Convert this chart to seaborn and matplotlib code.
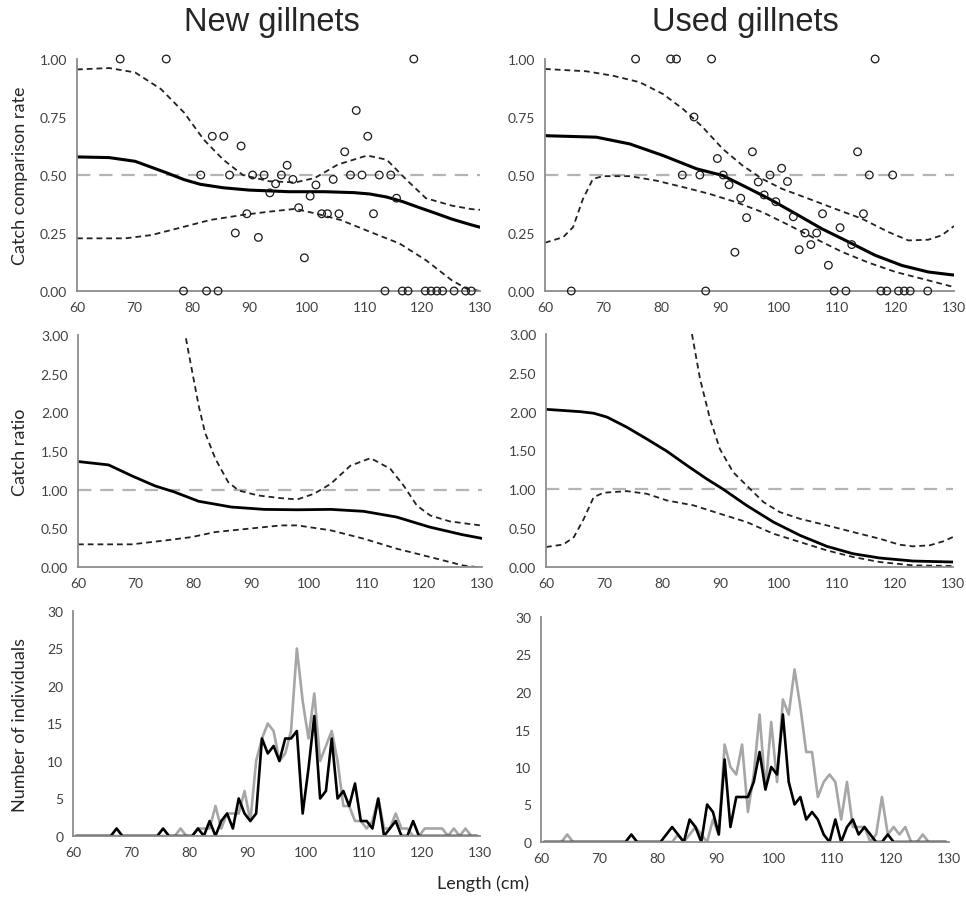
import numpy as np
import pandas as pd
import matplotlib
matplotlib.use('Agg')
import matplotlib.pyplot as plt
import seaborn as sns

sns.set_style('white')
plt.rcParams['font.family'] = ['Lato', 'DejaVu Sans']

# ---------------- data ----------------
# Catch comparison rate, new gillnets (observed points)
new_rate_x = [67.5, 75.5, 118.5, 108.5, 83.5, 85.5, 110.5, 88.5, 106.5, 96.5,
              81.5, 86.5, 90.5, 92.5, 95.5, 107.5, 109.5, 112.5, 114.5,
              97.5, 104.5, 94.5, 101.5, 93.5, 100.5, 115.5, 98.5,
              89.5, 102.5, 103.5, 105.5, 111.5, 87.5, 91.5, 99.5,
              78.5, 82.5, 84.5, 113.5, 116.5, 117.5, 120.5, 121.5, 122.5, 123.5, 125.5, 127.5, 128.5]
new_rate_y = [1.0, 1.0, 1.0, 0.778, 0.667, 0.667, 0.667, 0.625, 0.6, 0.542,
              0.5, 0.5, 0.5, 0.5, 0.5, 0.5, 0.5, 0.5, 0.5,
              0.481, 0.481, 0.462, 0.457, 0.423, 0.409, 0.4, 0.359,
              0.333, 0.333, 0.333, 0.333, 0.333, 0.25, 0.231, 0.143,
              0, 0, 0, 0, 0, 0, 0, 0, 0, 0, 0, 0, 0]
# fitted curve and confidence band, new gillnets
new_fit_x = [60, 65.6, 70.1, 75.5, 78.6, 81.4, 85.4, 89.9, 96.8, 103, 108.1, 110.9, 113.8, 116.6, 119.4, 122.3, 125.1, 128.5, 130]
new_fit_y = [0.578, 0.575, 0.559, 0.51, 0.48, 0.46, 0.445, 0.435, 0.428, 0.428, 0.424, 0.418, 0.405, 0.385, 0.36, 0.335, 0.31, 0.285, 0.275]
new_up_x = [60, 65.6, 70.1, 74.6, 78.6, 82, 85.4, 88.8, 93.4, 97.9, 101.3, 105.3, 110.4, 113.8, 117.2, 120.6, 125.1, 128.5, 130]
new_up_y = [0.955, 0.961, 0.942, 0.87, 0.769, 0.653, 0.566, 0.50, 0.473, 0.468, 0.487, 0.545, 0.584, 0.566, 0.48, 0.40, 0.368, 0.353, 0.35]
new_lo_x = [60, 68.4, 72.9, 78.6, 83.1, 88.8, 93.4, 97.9, 101.3, 105.8, 111.5, 116, 120.6, 125.1, 127.7, 130]
new_lo_y = [0.227, 0.227, 0.241, 0.277, 0.306, 0.328, 0.342, 0.354, 0.335, 0.306, 0.249, 0.205, 0.133, 0.046, 0.01, 0.0]

# Catch comparison rate, used gillnets
used_rate_x = [75.5, 81.5, 82.5, 88.5, 116.5, 85.5, 95.5, 113.5, 89.5, 100.5,
               83.5, 86.5, 90.5, 98.5, 115.5, 119.5, 96.5, 101.5, 91.5, 97.5,
               93.5, 99.5, 107.5, 114.5, 94.5, 102.5, 110.5, 104.5, 106.5,
               105.5, 112.5, 103.5, 92.5, 108.5,
               64.5, 87.5, 109.5, 111.5, 117.5, 118.5, 120.5, 121.5, 122.5, 125.5]
used_rate_y = [1.0, 1.0, 1.0, 1.0, 1.0, 0.75, 0.6, 0.6, 0.571, 0.529,
               0.5, 0.5, 0.5, 0.5, 0.5, 0.5, 0.47, 0.472, 0.458, 0.414,
               0.4, 0.385, 0.333, 0.333, 0.316, 0.32, 0.273, 0.25, 0.25,
               0.2, 0.2, 0.178, 0.167, 0.111,
               0, 0, 0, 0, 0, 0, 0, 0, 0, 0]
used_fit_x = [60, 60.6, 68.8, 74.5, 80.2, 85.9, 90.4, 94.4, 98.4, 102.9, 107.4, 112, 116.5, 121.1, 125.6, 129.5, 130]
used_fit_y = [0.67, 0.669, 0.663, 0.634, 0.584, 0.527, 0.498, 0.448, 0.397, 0.333, 0.268, 0.211, 0.154, 0.11, 0.082, 0.07, 0.069]
used_up_x = [60, 67.1, 71.6, 76.2, 80.2, 83.6, 87, 90.4, 93.8, 97.2, 100.6, 105.2, 109.7, 114.3, 118.8, 122.2, 125.6, 127.9, 130]
used_up_y = [0.957, 0.947, 0.928, 0.90, 0.849, 0.785, 0.706, 0.613, 0.541, 0.483, 0.44, 0.397, 0.354, 0.311, 0.254, 0.218, 0.221, 0.24, 0.28]
used_lo_x = [60, 63.1, 64.8, 66.5, 68.2, 69.9, 74.5, 79, 83.6, 88.1, 92.7, 97.2, 101.8, 106.3, 110.9, 115.4, 120, 124.5, 130]
used_lo_y = [0.208, 0.232, 0.275, 0.397, 0.483, 0.495, 0.495, 0.476, 0.448, 0.419, 0.383, 0.34, 0.283, 0.225, 0.168, 0.122, 0.082, 0.053, 0.017]

# Catch ratio, new gillnets
new_cr_x = [60, 65.3, 69.3, 73.3, 76.7, 80.9, 86.6, 92.3, 98, 103.8, 109.5, 115.2, 120.9, 126.6, 130]
new_cr_y = [1.364, 1.32, 1.18, 1.05, 0.97, 0.85, 0.775, 0.745, 0.74, 0.745, 0.72, 0.646, 0.517, 0.418, 0.37]
new_cru_x = [78.7, 79.7, 80.9, 82, 83.8, 86, 87.8, 91.2, 95.2, 98, 100.9, 103.8, 107.2, 110.7, 114.1, 116.4, 118.7, 121, 124.4, 130]
new_cru_y = [2.957, 2.56, 2.09, 1.74, 1.40, 1.10, 0.99, 0.925, 0.89, 0.874, 0.947, 1.076, 1.31, 1.408, 1.27, 1.055, 0.796, 0.667, 0.59, 0.535]
new_crl_x = [60, 69.3, 75.2, 79.7, 83.8, 89.5, 95.2, 98, 103.8, 109.5, 115.2, 121, 126.7, 129, 130]
new_crl_y = [0.293, 0.293, 0.344, 0.387, 0.452, 0.495, 0.538, 0.538, 0.474, 0.366, 0.237, 0.129, 0.02, 0.0, 0.0]

# Catch ratio, used gillnets
used_cr_x = [60, 65.9, 68.2, 70.5, 73.9, 77.3, 80.8, 84.2, 87.6, 90.5, 94.5, 99.1, 103.7, 108.3, 112.8, 117.4, 123.1, 130]
used_cr_y = [2.03, 2.00, 1.98, 1.93, 1.80, 1.65, 1.49, 1.31, 1.136, 1.0, 0.793, 0.579, 0.407, 0.266, 0.171, 0.116, 0.077, 0.064]
used_cru_x = [85.1, 86.5, 88.2, 89.9, 92.2, 94.5, 97.4, 100.2, 103.7, 108.3, 112.8, 117.4, 120.8, 123.1, 126, 128.3, 130]
used_cru_y = [3.0, 2.42, 1.91, 1.52, 1.22, 1.05, 0.836, 0.707, 0.62, 0.536, 0.45, 0.364, 0.287, 0.266, 0.279, 0.33, 0.386]
used_crl_x = [60, 63, 64.8, 66.5, 68.2, 69.9, 73.9, 77.3, 80.8, 85.4, 89.9, 94.5, 99.1, 103.7, 108.3, 112.8, 117.4, 123.1, 130]
used_crl_y = [0.257, 0.29, 0.386, 0.62, 0.90, 0.956, 0.977, 0.943, 0.857, 0.793, 0.686, 0.579, 0.429, 0.321, 0.214, 0.129, 0.064, 0.021, 0.013]

# Length-frequency (number of individuals), 1-cm classes from 60.5 to 129.5
length_classes = [60.5 + i for i in range(70)]
new_black = [0, 0, 0, 0, 0, 0, 0, 1, 0, 0,      # 60-69
             0, 0, 0, 0, 0, 1, 0, 0, 0, 0,      # 70-79
             0, 1, 0, 2, 0, 2, 3, 1, 5, 3,      # 80-89
             2, 3, 13, 11, 12, 10, 13, 13, 14, 3,  # 90-99
             9, 16, 5, 6, 13, 5, 6, 4, 7, 2,    # 100-109
             2, 1, 5, 0, 1, 2, 0, 0, 2, 0,      # 110-119
             0, 0, 0, 0, 0, 0, 0, 0, 0, 0]      # 120-129
new_gray = [0, 0, 0, 0, 0, 0, 0, 0, 0, 0,
            0, 0, 0, 0, 0, 0, 0, 0, 1, 0,
            0, 1, 1, 1, 4, 1, 3, 3, 3, 6,
            2, 10, 13, 15, 14, 10, 11, 14, 25, 18,
            13, 19, 10, 12, 14, 10, 4, 4, 2, 2,
            1, 2, 5, 1, 1, 3, 1, 1, 0, 0,
            1, 1, 1, 1, 0, 1, 0, 1, 0, 0]
used_black = [0, 0, 0, 0, 0, 0, 0, 0, 0, 0,
              0, 0, 0, 0, 0, 1, 0, 0, 0, 0,
              0, 1, 2, 1, 0, 3, 2, 0, 5, 4,
              1, 11, 2, 6, 6, 6, 8, 12, 7, 10,
              9, 17, 8, 5, 6, 3, 4, 3, 1, 0,
              3, 0, 2, 3, 1, 2, 1, 0, 0, 1,
              0, 0, 0, 0, 0, 0, 0, 0, 0, 0]
used_gray = [0, 0, 0, 0, 1, 0, 0, 0, 0, 0,
             0, 0, 0, 0, 0, 0, 0, 0, 0, 0,
             0, 0, 0, 1, 0, 1, 2, 1, 0, 3,
             1, 13, 10, 9, 13, 4, 9, 17, 7, 16,
             8, 19, 17, 23, 18, 12, 12, 6, 8, 9,
             8, 3, 8, 2, 2, 2, 0, 1, 6, 1,
             2, 1, 2, 0, 0, 1, 0, 0, 0, 0]

x_ticks = [60, 70, 80, 90, 100, 110, 120, 130]

# ---------------- figure ----------------
W, H = 966, 903
fig = plt.figure(figsize=(W / 100, H / 100), dpi=100)


def add_ax(x0, x1, ytop, ybot):
    return fig.add_axes([x0 / W, 1 - ybot / H, (x1 - x0) / W, (ybot - ytop) / H])


SPINE = '#8c8c8c'
REF = '#b4b4b4'
DASH = (0, (3.2, 2.2))


def style(ax, ylim, yticks, yfmt, labelsize=10):
    ax.set_xlim(60, 130)
    ax.set_ylim(*ylim)
    ax.set_xticks(x_ticks)
    ax.set_yticks(yticks)
    ax.set_yticklabels([yfmt.format(v) for v in yticks])
    for s in ['top', 'right']:
        ax.spines[s].set_visible(False)
    for s in ['left', 'bottom']:
        ax.spines[s].set_color(SPINE)
        ax.spines[s].set_linewidth(1.3)
    ax.tick_params(axis='both', length=0, labelsize=labelsize, colors='#404040', pad=7)
    ax.set_xlabel('')
    ax.set_ylabel('')
    ax.grid(False)


def rate_panel(ax, px, py, fx, fy, ux, uy, lx, ly):
    ax.axhline(0.5, color=REF, lw=1.6, ls=(0, (6, 4)), zorder=1)
    sns.lineplot(x=ux, y=uy, ax=ax, color='#222222', lw=1.3, linestyle=DASH, estimator=None, sort=False)
    sns.lineplot(x=lx, y=ly, ax=ax, color='#222222', lw=1.3, linestyle=DASH, estimator=None, sort=False)
    sns.lineplot(x=fx, y=fy, ax=ax, color='black', lw=2.2, estimator=None, sort=False)
    sns.scatterplot(x=px, y=py, ax=ax, s=30, color='white', edgecolor='#1a1a1a', linewidth=0.9,
                    zorder=5, clip_on=False)
    ax.collections[-1].set_facecolor('none')
    style(ax, (0, 1), [0, 0.25, 0.5, 0.75, 1.0], '{:.2f}')


def ratio_panel(ax, fx, fy, ux, uy, lx, ly):
    ax.axhline(1.0, color=REF, lw=1.6, ls=(0, (6, 4)), zorder=1)
    sns.lineplot(x=ux, y=uy, ax=ax, color='#222222', lw=1.3, linestyle=DASH, estimator=None, sort=False)
    sns.lineplot(x=lx, y=ly, ax=ax, color='#222222', lw=1.3, linestyle=DASH, estimator=None, sort=False)
    sns.lineplot(x=fx, y=fy, ax=ax, color='black', lw=2.0, estimator=None, sort=False)
    style(ax, (0, 3), [0, 0.5, 1.0, 1.5, 2.0, 2.5, 3.0], '{:.2f}')


def freq_panel(ax, black, gray):
    df = pd.DataFrame({'length': length_classes, 'black': black, 'gray': gray})
    sns.lineplot(data=df, x='length', y='gray', ax=ax, color='#a6a6a6', lw=1.9, estimator=None, sort=False)
    sns.lineplot(data=df, x='length', y='black', ax=ax, color='black', lw=1.9, estimator=None, sort=False)
    style(ax, (0, 30), [0, 5, 10, 15, 20, 25, 30], '{:.0f}')


ax_tl = add_ax(77, 480, 60, 292)
ax_tr = add_ax(545, 954, 60, 292)
ax_ml = add_ax(78, 482, 336, 568)
ax_mr = add_ax(546, 953, 335, 568)
ax_bl = add_ax(73, 480, 612, 837)
ax_br = add_ax(541, 949, 618, 843)

rate_panel(ax_tl, new_rate_x, new_rate_y, new_fit_x, new_fit_y, new_up_x, new_up_y, new_lo_x, new_lo_y)
rate_panel(ax_tr, used_rate_x, used_rate_y, used_fit_x, used_fit_y, used_up_x, used_up_y, used_lo_x, used_lo_y)
ratio_panel(ax_ml, new_cr_x, new_cr_y, new_cru_x, new_cru_y, new_crl_x, new_crl_y)
ratio_panel(ax_mr, used_cr_x, used_cr_y, used_cru_x, used_cru_y, used_crl_x, used_crl_y)
freq_panel(ax_bl, new_black, new_gray)
freq_panel(ax_br, used_black, used_gray)

# titles and labels
fig.text(272 / W, 1 - 22 / H, 'New gillnets', ha='center', va='center', fontsize=23.5,
         family=['Liberation Sans', 'DejaVu Sans'])
fig.text(745 / W, 1 - 22 / H, 'Used gillnets', ha='center', va='center', fontsize=23.5,
         family=['Liberation Sans', 'DejaVu Sans'])
fig.text(20 / W, 1 - 176 / H, 'Catch comparison rate', rotation=90, ha='center', va='center', fontsize=13, color='#262626')
fig.text(20 / W, 1 - 452 / H, 'Catch ratio', rotation=90, ha='center', va='center', fontsize=13, color='#262626')
fig.text(20 / W, 1 - 725 / H, 'Number of individuals', rotation=90, ha='center', va='center', fontsize=13, color='#262626')
fig.text(483 / W, 1 - 884 / H, 'Length (cm)', ha='center', va='center', fontsize=13, color='#262626')

fig.savefig('out.png', dpi=100, facecolor='white')
